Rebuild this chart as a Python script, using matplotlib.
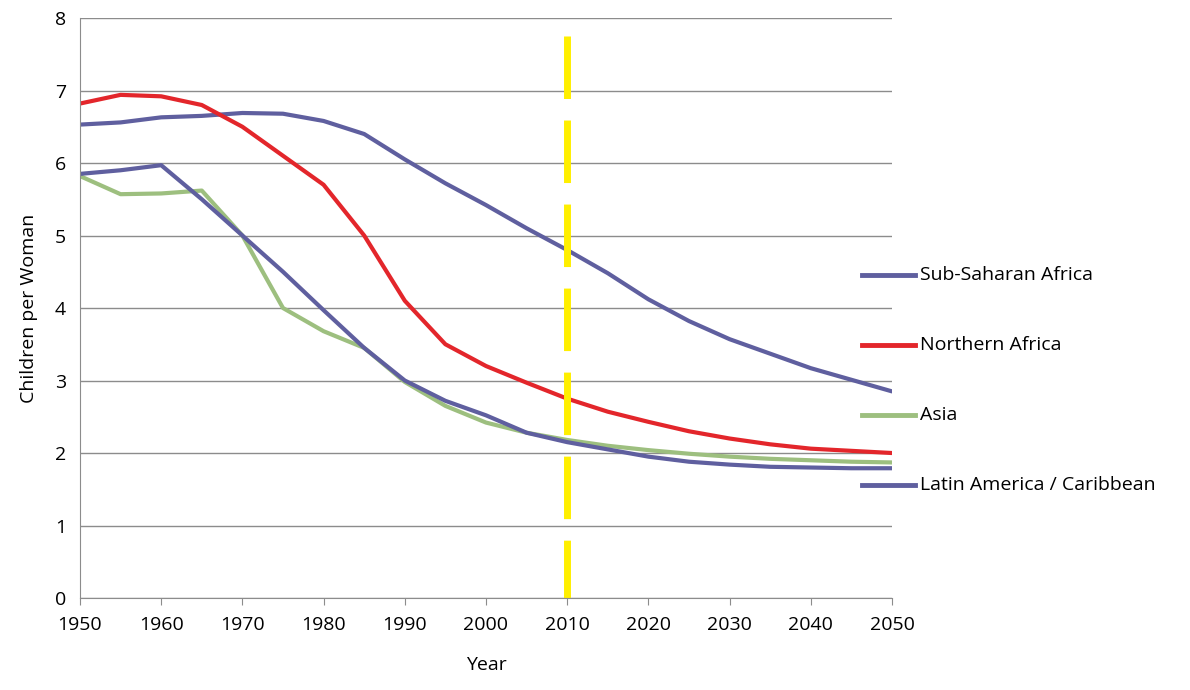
import numpy as np
import matplotlib.pyplot as plt
from matplotlib.lines import Line2D

plt.rcParams['font.family'] = ['Open Sans', 'DejaVu Sans']

years = np.arange(1950, 2051, 5)
sub_saharan = [6.53, 6.56, 6.63, 6.65, 6.69, 6.68, 6.58, 6.40, 6.05, 5.72, 5.42,
               5.10, 4.80, 4.48, 4.12, 3.82, 3.57, 3.37, 3.17, 3.01, 2.85]
northern = [6.82, 6.94, 6.92, 6.80, 6.50, 6.10, 5.70, 5.00, 4.10, 3.50, 3.20,
            2.97, 2.75, 2.57, 2.43, 2.30, 2.20, 2.12, 2.06, 2.03, 2.00]
asia = [5.82, 5.57, 5.58, 5.62, 5.00, 4.00, 3.68, 3.45, 2.98, 2.65, 2.42,
        2.28, 2.18, 2.10, 2.04, 1.99, 1.95, 1.92, 1.90, 1.88, 1.87]
latam = [5.85, 5.90, 5.97, 5.50, 5.00, 4.50, 3.97, 3.45, 3.00, 2.72, 2.52,
         2.28, 2.15, 2.05, 1.95, 1.88, 1.84, 1.81, 1.80, 1.79, 1.79]

names = ['Sub-Saharan Africa', 'Northern Africa', 'Asia', 'Latin America / Caribbean']
series = [sub_saharan, northern, asia, latam]
colors = ['#5f5f9f', '#e3262b', '#9dbf7f', '#5f5f9f']

fig = plt.figure(figsize=(11.9, 6.9), dpi=100)
ax = fig.add_axes([0.0672, 0.1333, 0.6824, 0.8406])

for y, c in zip(series, colors):
    ax.plot(years, y, color=c, lw=3, solid_joinstyle='round', solid_capstyle='round')

ax.plot([2010, 2010], [7.75, 0], color='#ffef00', lw=5, dashes=(9, 3.1))

ax.set_xlim(1950, 2050)
ax.set_ylim(0, 8)
ax.set_xticks(range(1950, 2051, 10))
ax.set_yticks(range(0, 9))
ax.yaxis.grid(True, color='#8c8c8c', lw=1)
ax.set_axisbelow(True)
for s in ['top', 'right']:
    ax.spines[s].set_visible(False)
for s in ['left', 'bottom']:
    ax.spines[s].set_color('#8c8c8c')
ax.tick_params(axis='both', labelsize=14, color='#8c8c8c', length=5)
ax.tick_params(axis='x', pad=8)
ax.tick_params(axis='y', length=0, pad=10)
ax.set_xlabel('Year', fontsize=14, labelpad=16)
ax.set_ylabel('Children per Woman', fontsize=14, labelpad=12)

leg_y = [275, 345, 415, 485]
for name, c, py in zip(names, colors, leg_y):
    fy = 1 - py / 690
    fig.add_artist(Line2D([862 / 1190, 915 / 1190], [fy, fy], color=c, lw=3.5,
                          transform=fig.transFigure))
    fig.text(920 / 1190, fy, name, fontsize=14, va='center', ha='left')

fig.savefig('out.png', dpi=100)
